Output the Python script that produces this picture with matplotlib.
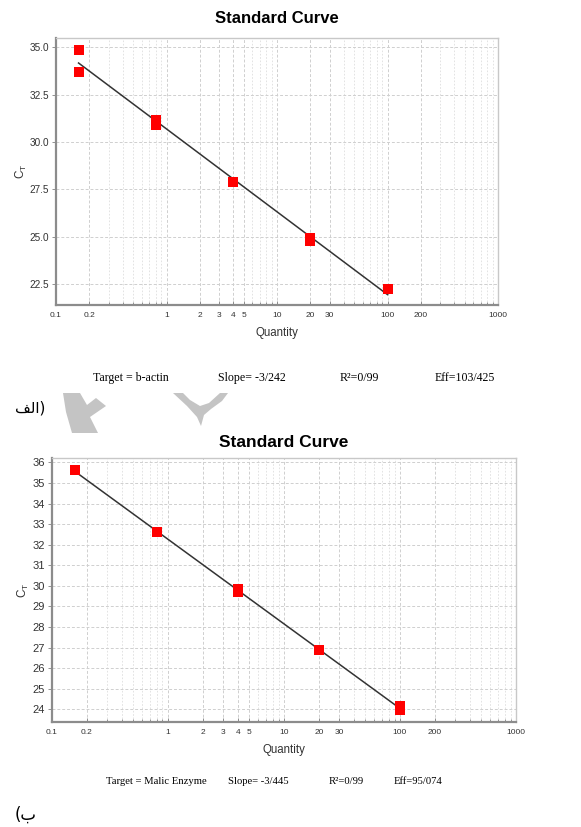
import numpy as np
import matplotlib.pyplot as plt
from matplotlib.patches import Polygon
from matplotlib.ticker import FixedLocator, NullFormatter

# top chart (b-actin)
qty_a = [0.16, 0.16, 0.8, 0.8, 4, 20, 20, 100]
ct_a = [34.88, 33.73, 31.18, 30.92, 27.92, 24.95, 24.78, 22.27]
# bottom chart (malic enzyme)
qty_b = [0.16, 0.8, 4, 4, 20, 100, 100]
ct_b = [35.63, 32.61, 29.83, 29.70, 26.89, 24.18, 23.98]

xticks = [0.1, 0.2, 1, 2, 3, 4, 5, 10, 20, 30, 100, 200, 1000]
xlabels = ['0.1', '0.2', '1', '2', '3', '4', '5', '10', '20', '30', '100', '200', '1000']
yticks_a = [22.5, 25.0, 27.5, 30.0, 32.5, 35.0]
yticks_b = list(range(24, 37))

info_a = ['Target = b-actin', 'Slope= -3/242', 'R²=0/99', 'Eff=103/425']
info_b = ['Target = Malic Enzyme', 'Slope= -3/445', 'R²=0/99', 'Eff=95/074']

W, H = 581, 827
fig = plt.figure(figsize=(W / 100, H / 100), dpi=100)
plt.rcParams['font.family'] = ['Liberation Sans', 'DejaVu Sans']


def px(x, y):
    return x / W, 1 - y / H


def draw(rect, q, ct, ylim, yticks, yfmt, title, tfs, lfs, tpad):
    ax = fig.add_axes(rect)
    ax.set_xscale('log')
    ax.set_xlim(0.1, 1000)
    ax.set_ylim(*ylim)
    ax.grid(which='major', color='#cfcfcf', linestyle=(0, (3, 2)), linewidth=0.7)
    ax.grid(which='minor', axis='x', color='#dedede', linestyle=(0, (2, 2)), linewidth=0.6)
    ax.xaxis.set_major_locator(FixedLocator(xticks))
    ax.set_xticklabels(xlabels)
    ax.xaxis.set_minor_formatter(NullFormatter())
    ax.set_yticks(yticks)
    ax.set_yticklabels([yfmt.format(v) for v in yticks])
    ax.tick_params(axis='x', which='both', labelsize=6, length=3, width=0.6,
                   color='#808080', direction='in', pad=5, labelcolor='#333333')
    ax.tick_params(axis='x', which='minor', length=2)
    ax.tick_params(axis='y', labelsize=lfs, length=3, width=0.6, color='#808080',
                   pad=2, labelcolor='#333333')
    for s in ['left', 'bottom']:
        ax.spines[s].set_color('#8c8c8c')
        ax.spines[s].set_linewidth(1.6)
    for s in ['top', 'right']:
        ax.spines[s].set_color('#c8c8c8')
        ax.spines[s].set_linewidth(1.0)

    lq = np.log10(q)
    k, b = np.polyfit(lq, ct, 1)
    xs = np.array([min(q), max(q)])
    ax.plot(xs, k * np.log10(xs) + b, color='#333333', linewidth=1.1, zorder=3)
    ax.plot(q, ct, linestyle='none', marker='s', markersize=7.2, color='#ff0000',
            markeredgewidth=0, zorder=4)
    ax.set_xlabel('Quantity', fontsize=8.3, color='#333333', labelpad=6)
    ax.set_ylabel('C$_\\mathregular{T}$', fontsize=8.5, color='#333333')
    ax.set_title(title, fontsize=tfs, fontweight='bold', pad=tpad)
    return ax


ax1 = draw([56 / W, 1 - 305 / H, 442 / W, 267 / H], qty_a, ct_a, (21.4, 35.5),
           yticks_a, '{:.1f}', 'Standard Curve', 12, 7.2, 11)
ax1.yaxis.set_label_coords(-0.062, 0.5)
ax2 = draw([51.7 / W, 1 - 721.7 / H, 464.3 / W, 263.4 / H], qty_b, ct_b, (23.4, 36.2),
           yticks_b, '{:d}', 'Standard Curve', 12.5, 8, 8)
ax2.yaxis.set_label_coords(-0.045, 0.5)

# summary lines below each chart
for txt, x in zip(info_a, [92.7, 218, 340, 435]):
    fig.text(*px(x, 378), txt, family='Liberation Serif', fontsize=8.6, va='center')
for txt, x in zip(info_b, [106, 228, 329, 394]):
    fig.text(*px(x, 781), txt, family='Liberation Serif', fontsize=7.7, va='center')

# panel letters (Arabic, written in visual order)
fig.text(*px(15, 408), '\uFED2\uFEDF\uFE8D)', family='DejaVu Sans', fontsize=11, va='center')
fig.text(*px(15, 815), '(\uFE8F', family='DejaVu Sans', fontsize=12, va='center')

# grey watermark shapes between the panels
left_shape = [(63, 393), (80, 393), (87, 405), (96, 398), (106, 406), (90, 417),
              (98, 433), (72, 433), (66, 412)]
right_shape = [(173, 393), (183, 393), (190, 400), (200, 406), (209, 403), (220, 393),
               (228, 393), (222, 401), (211, 409), (204, 415), (201, 426), (197, 417),
               (187, 406)]
for shp in [left_shape, right_shape]:
    fig.patches.append(Polygon([px(x, y) for x, y in shp], closed=True,
                               transform=fig.transFigure, facecolor='#c4c4c4',
                               edgecolor='none', zorder=0))

fig.savefig('out.png', dpi=100)
